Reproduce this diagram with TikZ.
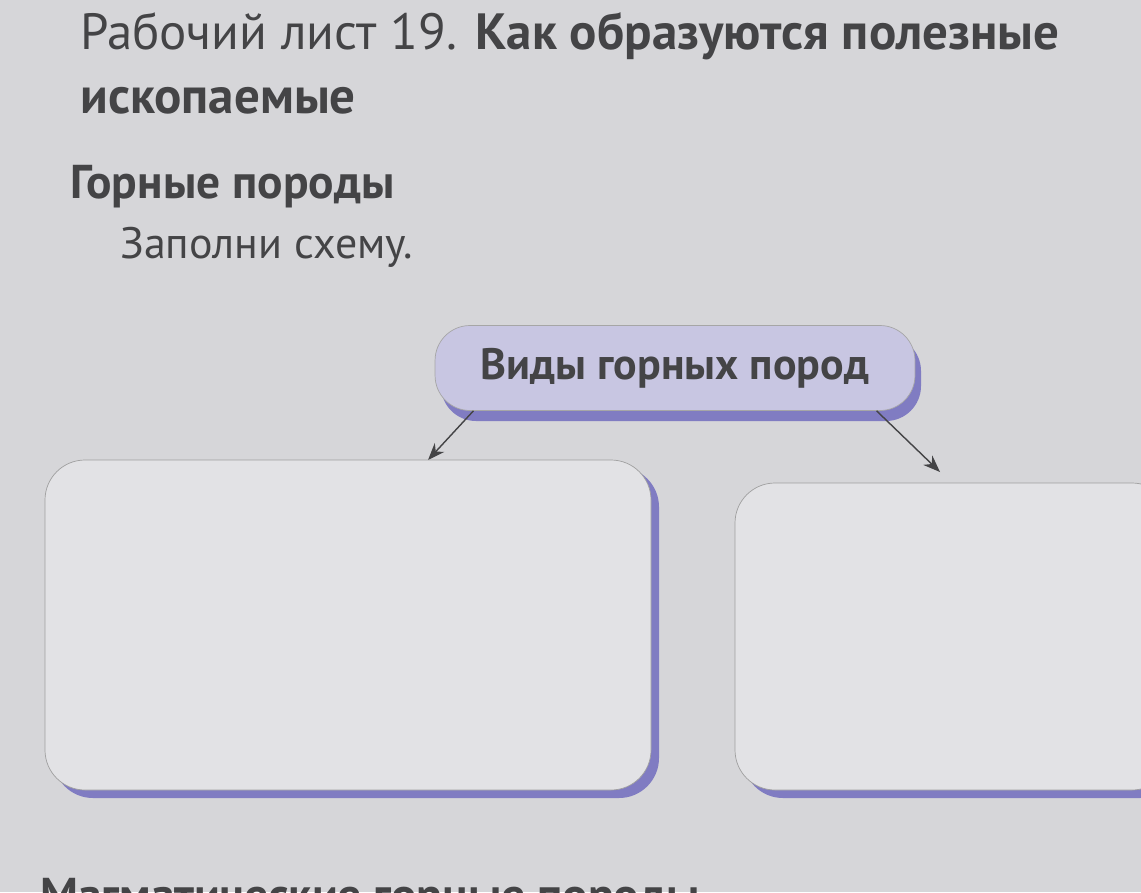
\documentclass[tikz,border=0pt]{standalone}
\usepackage{fontspec}
\setmainfont{PT Sans}
\usetikzlibrary{arrows.meta}
\definecolor{paper}{RGB}{214,214,217}
\definecolor{ink}{RGB}{68,68,70}
\definecolor{lavender}{RGB}{200,198,226}
\definecolor{rockshadow}{RGB}{128,124,194}
\definecolor{boxfill}{RGB}{226,226,229}
\begin{document}
\begin{tikzpicture}[x=0.02cm,y=-0.02cm]
        \tikzset{head text/.style={anchor=base west, inner sep=0pt, text=ink, font=\fontsize{29}{34}\selectfont}}
        \tikzset{title box/.style={draw=gray!70, fill=lavender, rounded corners=0.7cm, minimum width=9.6cm, minimum height=1.7cm, inner sep=0pt, text=ink, font=\bfseries\fontsize{25}{30}\selectfont}}
        \tikzset{answer box/.style={draw=gray!75, fill=boxfill, rounded corners=0.8cm}}
        \useasboundingbox (0,0) rectangle (1141,892);
        \clip (0,0) rectangle (1141,892);
        \fill[paper] (0,0) rectangle (1141,892);
        % header
        \node[head text] (sheet) at (80,50) {Рабочий лист 19. \textbf{Как образуются полезные}};
        \node[head text] (sheet2) at (80,113) {\textbf{ископаемые}};
        \node[head text, font=\bfseries\fontsize{27}{32}\selectfont] (rocks) at (70,198) {Горные породы};
        \node[head text, font=\fontsize{25}{30}\selectfont] (task) at (120,258) {Заполни схему.};
        % scheme
        \fill[rockshadow, rounded corners=0.7cm] (441,336) rectangle (921,421);
        \node[title box] (kinds) at (675,368) {Виды горных пород};
        \coordinate (left end) at (428,460);
        \coordinate (right end) at (940,472);
        \draw[ink, thick, -{Stealth[length=3.4mm,width=2.6mm]}] (kinds.192) -- (left end);
        \draw[ink, thick, -{Stealth[length=3.4mm,width=2.6mm]}] (kinds.-12) -- (right end);
        \fill[rockshadow, rounded corners=0.8cm] (53,467) rectangle (659,798);
        \draw[answer box] (45,460) rectangle (651,790);
        \fill[rockshadow, rounded corners=0.8cm] (743,490) rectangle (1180,798);
        \draw[answer box] (735,483) rectangle (1172,790);
        % next heading, cut off by the page edge
        \node[head text, font=\bfseries\fontsize{27}{32}\selectfont] (next) at (40,911) {Магматические горные породы};
      \end{tikzpicture}
\end{document}
